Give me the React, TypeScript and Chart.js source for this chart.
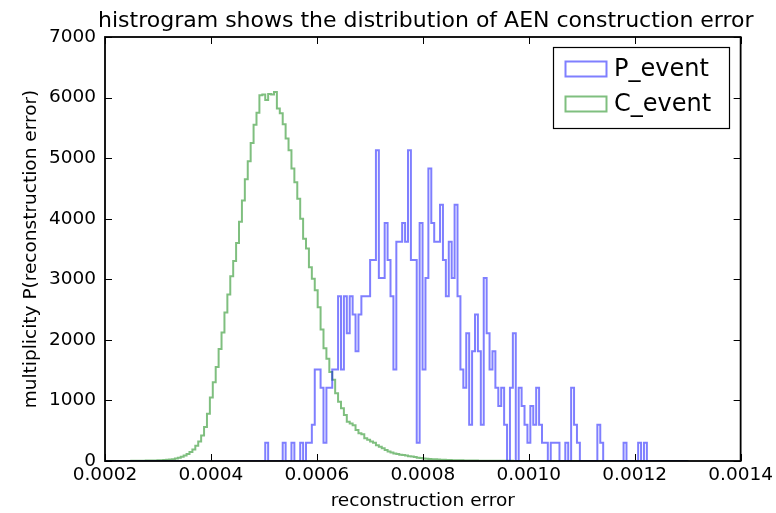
import React, { useEffect, useRef } from "react";
import { Chart, registerables } from "chart.js";

Chart.register(...registerables);

const TITLE = "histrogram shows the distribution of AEN construction error";
const X_LABEL = "reconstruction error";
const Y_LABEL = "multiplicity P(reconstruction error)";
const SERIES_LABELS = ["P_event", "C_event"];
const SERIES_COLORS = ["rgba(0,0,255,0.5)", "rgba(0,128,0,0.5)"];

const X_TICKS = [0.0002, 0.0004, 0.0006, 0.0008, 0.001, 0.0012, 0.0014];
const X_TICK_LABELS = ["0.0002", "0.0004", "0.0006", "0.0008", "0.0010", "0.0012", "0.0014"];
const Y_TICKS = [0, 1000, 2000, 3000, 4000, 5000, 6000, 7000];
const Y_TICK_LABELS = ["0", "1000", "2000", "3000", "4000", "5000", "6000", "7000"];

// histogram bins: 200 equal bins from BIN_START to BIN_END
const BIN_START = 0.0002;
const BIN_END = 0.0013;

// P_event bin heights (bins 0..199)
const P_EVENT = [
  0, 0, 0, 0, 0, 0, 0, 0, 0, 0,
  0, 0, 0, 0, 0, 0, 0, 0, 0, 0,
  0, 0, 0, 0, 0, 0, 0, 0, 0, 0,
  0, 0, 0, 0, 0, 0, 0, 0, 0, 0,
  0, 0, 0, 0, 0, 0, 0, 0, 0, 0,
  0, 0, 0, 0, 0, 300, 0, 0, 0, 0,
  0, 300, 0, 0, 300, 0, 0, 300, 0, 300,
  300, 600, 1510, 1510, 1210, 300, 1210, 1210, 1510, 1510,
  2720, 1510, 2720, 2110, 2720, 2420, 1810, 2420, 2720, 2720,
  2720, 3320, 3320, 5130, 3020, 3020, 3930, 3320, 2720, 1510,
  3620, 3620, 3930, 3620, 5130, 3320, 3320, 300, 3930, 1510,
  3020, 4830, 3930, 3620, 3620, 4230, 3320, 2720, 3620, 3020,
  4230, 2720, 1510, 1210, 2110, 600, 1810, 2420, 1810, 600,
  3020, 2110, 1510, 1810, 1210, 910, 1210, 600, 0, 1210,
  2110, 0, 1210, 910, 600, 300, 910, 600, 1210, 600,
  300, 300, 0, 300, 300, 300, 0, 0, 300, 0,
  1210, 600, 300, 0, 0, 0, 0, 0, 0, 600,
  300, 0, 0, 0, 0, 0, 0, 0, 300, 0,
  0, 0, 0, 300, 0, 300, 0, 0, 0, 0,
  0, 0, 0, 0, 0, 0, 0, 0, 0, 0,
];

// C_event bin heights (bins 0..199)
const C_EVENT = [
  0, 0, 1, 1, 1, 1, 2, 2, 2, 3,
  3, 4, 5, 6, 7, 8, 9, 10, 12, 14,
  17, 20, 24, 30, 40, 52, 70, 90, 115, 150,
  190, 250, 320, 420, 560, 780, 1050, 1300, 1550, 1850,
  2120, 2450, 2750, 3050, 3300, 3600, 3950, 4300, 4650, 4950,
  5250, 5550, 5750, 6040, 6050, 5960, 6060, 6050, 6090, 5820,
  5740, 5560, 5325, 5130, 4830, 4600, 4330, 4000, 3670, 3510,
  3200, 3010, 2820, 2540, 2170, 1860, 1690, 1470, 1340, 1120,
  980, 870, 760, 650, 620, 590, 510, 460, 440, 375,
  350, 320, 300, 260, 236, 210, 180, 155, 140, 125,
  115, 105, 100, 90, 80, 75, 65, 55, 48, 42,
  38, 34, 30, 27, 25, 22, 20, 18, 16, 14,
  13, 12, 11, 10, 9, 8, 7, 7, 6, 6,
  5, 5, 5, 4, 4, 4, 3, 3, 3, 3,
  2, 2, 2, 2, 2, 2, 2, 2, 2, 2,
  2, 2, 2, 2, 2, 2, 2, 2, 2, 2,
  1, 1, 1, 1, 1, 1, 1, 1, 1, 1,
  1, 1, 1, 1, 1, 1, 1, 1, 1, 1,
  1, 1, 1, 1, 1, 1, 1, 1, 1, 1,
  1, 1, 1, 1, 1, 1, 1, 1, 1, 1,
];

const FONT = "'DejaVu Sans', 'Liberation Sans', sans-serif";

function stepPoints(values: number[]) {
  const w = (BIN_END - BIN_START) / values.length;
  const pts: { x: number; y: number }[] = [{ x: BIN_START, y: 0 }];
  values.forEach((v, i) => pts.push({ x: BIN_START + i * w, y: v }));
  pts.push({ x: BIN_END, y: 0 });
  return pts;
}

const framePlugin = {
  id: "mplFrame",
  afterDatasetsDraw(chart: any) {
    const { ctx, chartArea: a, scales } = chart;
    ctx.save();
    ctx.strokeStyle = "#000";
    ctx.lineWidth = 1;
    const tl = 7;
    ctx.beginPath();
    scales.x.ticks.forEach((t: any) => {
      const px = Math.round(scales.x.getPixelForValue(t.value)) + 0.5;
      ctx.moveTo(px, a.bottom);
      ctx.lineTo(px, a.bottom - tl);
      ctx.moveTo(px, a.top);
      ctx.lineTo(px, a.top + tl);
    });
    scales.y.ticks.forEach((t: any) => {
      const py = Math.round(scales.y.getPixelForValue(t.value)) + 0.5;
      ctx.moveTo(a.left, py);
      ctx.lineTo(a.left + tl, py);
      ctx.moveTo(a.right, py);
      ctx.lineTo(a.right - tl, py);
    });
    ctx.stroke();
    ctx.lineWidth = 1.8;
    ctx.strokeRect(a.left, a.top, a.right - a.left, a.bottom - a.top);
    ctx.restore();
  },
  afterDraw(chart: any) {
    const { ctx, chartArea: a } = chart;
    ctx.save();
    // title
    ctx.fillStyle = "#000";
    ctx.font = `22px ${FONT}`;
    ctx.textAlign = "center";
    ctx.textBaseline = "alphabetic";
    ctx.fillText(TITLE, (a.left + a.right) / 2 + 3, 27);
    // legend
    const bx = 553, by = 47, bw = 176, bh = 81;
    ctx.fillStyle = "#fff";
    ctx.fillRect(bx, by, bw, bh);
    ctx.strokeStyle = "#000";
    ctx.lineWidth = 1.2;
    ctx.strokeRect(bx + 0.5, by + 0.5, bw, bh);
    chart.data.datasets.forEach((ds: any, i: number) => {
      const cy = by + 22 + i * 35;
      ctx.strokeStyle = ds.borderColor;
      ctx.lineWidth = 2;
      ctx.strokeRect(bx + 12.5, cy - 7.5, 41, 15);
      ctx.fillStyle = "#000";
      ctx.font = `24px ${FONT}`;
      ctx.textAlign = "left";
      ctx.textBaseline = "middle";
      ctx.fillText(ds.label, bx + 61, cy + 1);
    });
    ctx.restore();
  },
};

export default function App() {
  const ref = useRef<HTMLCanvasElement>(null);
  useEffect(() => {
    if (!ref.current) return;
    const chart = new Chart(ref.current, {
      type: "line",
      data: {
        datasets: [
          {
            label: SERIES_LABELS[0],
            data: stepPoints(P_EVENT),
            borderColor: SERIES_COLORS[0],
            borderWidth: 2,
            pointRadius: 0,
            fill: false,
            stepped: true,
          },
          {
            label: SERIES_LABELS[1],
            data: stepPoints(C_EVENT),
            borderColor: SERIES_COLORS[1],
            borderWidth: 2,
            pointRadius: 0,
            fill: false,
            stepped: true,
          },
        ],
      },
      options: {
        responsive: false,
        animation: false,
        events: [],
        layout: { padding: { top: 37, right: 35, bottom: 0, left: 0 } },
        plugins: {
          legend: { display: false },
          tooltip: { enabled: false },
          title: { display: false },
        },
        scales: {
          x: {
            type: "linear",
            min: 0.0002,
            max: 0.0014,
            afterBuildTicks: (s: any) => {
              s.ticks = X_TICKS.map((v) => ({ value: v }));
            },
            afterFit: (s: any) => {
              s.height = 52;
            },
            grid: { display: false, drawTicks: false },
            border: { display: false },
            ticks: {
              padding: 3,
              color: "#000",
              font: { family: FONT, size: 18.5 },
              maxRotation: 0,
              autoSkip: false,
              callback: (v: any) => X_TICK_LABELS[X_TICKS.findIndex((t) => Math.abs(t - v) < 1e-9)],
            },
            title: {
              display: true,
              text: X_LABEL,
              color: "#000",
              font: { family: FONT, size: 18.5 },
              padding: { top: 0, bottom: 1 },
            },
          },
          y: {
            type: "linear",
            min: 0,
            max: 7000,
            afterBuildTicks: (s: any) => {
              s.ticks = Y_TICKS.map((v) => ({ value: v }));
            },
            afterFit: (s: any) => {
              s.width = 105;
            },
            grid: { display: false, drawTicks: false },
            border: { display: false },
            ticks: {
              padding: 9,
              color: "#000",
              font: { family: FONT, size: 18.5 },
              autoSkip: false,
              callback: (v: any) => Y_TICK_LABELS[Y_TICKS.indexOf(v)],
            },
            title: {
              display: true,
              text: Y_LABEL,
              color: "#000",
              font: { family: FONT, size: 18.5 },
              padding: { top: 20, bottom: 0 },
            },
          },
        },
      },
      plugins: [framePlugin],
    });
    return () => chart.destroy();
  }, []);
  return (
    <div style={{ position: "fixed", left: 0, top: 0, width: 776, height: 513, background: "#fff" }}>
      <canvas ref={ref} width={776} height={513} />
    </div>
  );
}
